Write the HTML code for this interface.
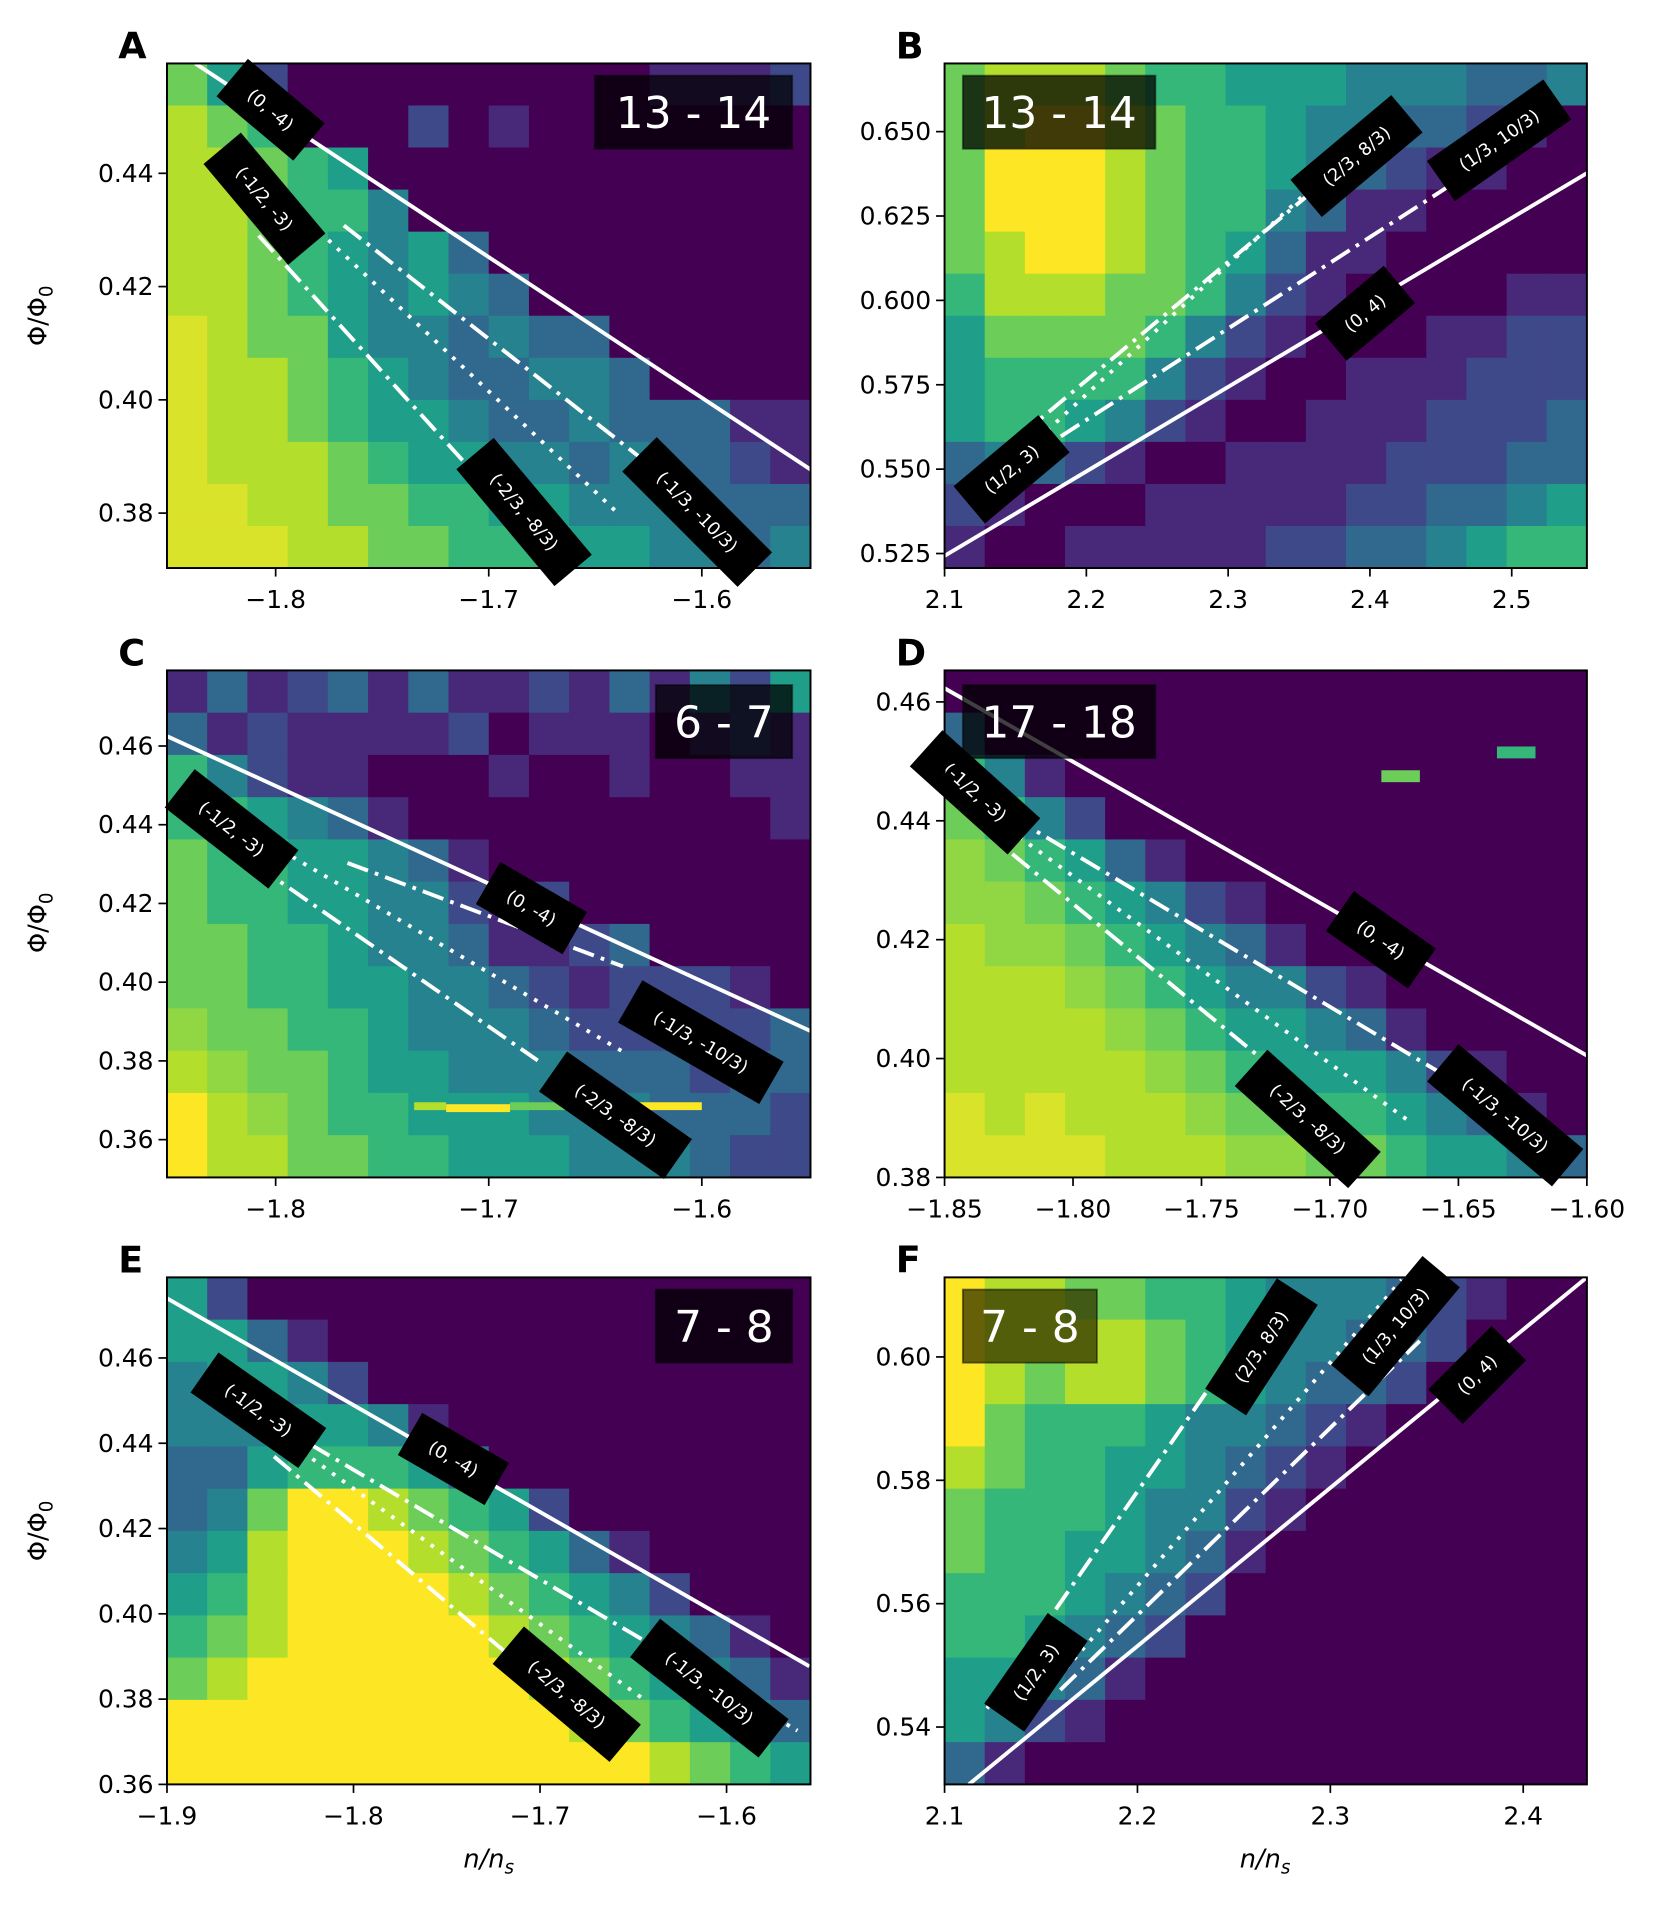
<!DOCTYPE html>
<html><head><meta charset="utf-8">
<style>
html,body{margin:0;padding:0;background:#fff;}
svg{display:block;font-family:"DejaVu Sans","Liberation Sans",sans-serif;}
</style></head>
<body>
<svg id="fig" width="1660" height="1910" viewBox="0 0 1362 1567" xmlns="http://www.w3.org/2000/svg"></svg>
<script>
// ---- heatmap data (0 = low / purple, 9 = high / yellow), rows top -> bottom ----
const gridA=[
[7,5,2,0,0,0,0,0,0,0,0,0,1,1,1,2],
[8,7,6,0,0,0,2,0,1,0,0,0,0,0,0,0],
[8,8,7,6,5,0,0,0,0,0,0,0,0,0,0,0],
[8,8,7,6,6,4,0,0,0,0,0,0,0,0,0,0],
[8,8,7,6,5,4,5,3,0,0,0,0,0,0,0,0],
[8,8,7,6,5,4,5,4,3,0,0,0,0,0,0,0],
[8.5,8,7,7,5,4,4,3,4,3,3,0,0,0,0,0],
[8.5,8,8,7,6,5,4,3,3,4,4,3,0,0,0,0],
[8.5,8,8,7,6,5,5,4,3,3,4,3,3,3,1,1],
[8.5,8,8,8,7,6,5,5,4,4,3,4,3,3,2,1],
[8.5,8.5,8,8,7,7,6,6,5,5,4,4,4,3,3,3],
[8.5,8.5,8.5,8,8,7,7,6,6,6,5,5,4,4,3,4]];
const gridB=[
[7,8,8,8,7,6,6,5,5,5,4,4,4,3,3,4],
[7,8,9,9,8,7,6,6,5,4,4,3,3,2,1,0],
[7,9,9,9,8,7,6,6,5,4,3,2,1,1,0,0],
[7,9,9,9,8,7,6,6,4,3,1,1,0,0,0,0],
[7,8,9,9,8,7,6,5,3,1,1,0,0,0,0,0],
[6,8,8,8,7,7,6,4,2,1,0,0,0,0,1,1],
[5,7,7,7,7,6,4,2,1,0,0,0,1,1,2,2],
[5,6,6,6,6,4,2,1,0,0,1,1,1,2,2,2],
[5,6,6,5,4,2,1,0,0,1,1,1,2,2,2,3],
[3,4,3,2,1,0,0,1,1,1,1,2,2,2,3,3],
[2,1,0,0,0,1,1,1,1,1,2,2,3,3,4,5],
[1,0,0,1,1,1,1,1,2,2,3,3,4,5,6,6]];
const gridC=[
[1,3,1,2,3,1,3,1,1,2,1,3,1,4,2,5],
[3,1,2,1,1,1,1,2,0,1,1,1,0,1,2,1],
[6,4,2,1,1,0,0,0,1,0,0,1,0,0,1,1],
[6,6,5,4,3,1,0,0,0,0,0,0,0,0,0,1],
[7,6,6,5,5,4,3,1,0,0,0,0,0,0,0,0],
[7,6,6,5,5,4,4,2,1,2,0,0,0,0,0,0],
[7,7,6,6,5,4,4,3,1,1,2,3,0,0,0,0],
[7,7,6,6,5,5,4,4,3,2,1,2,2,2,1,0],
[7.5,7,7,6,6,5,4,4,4,3,2,2,2,2,2,3],
[8,7.5,7,7,6,5,5,4,4,4,3,3,3,2,3,3],
[9,8,7.5,7,6,6,5,5,5,4,4,4,3,3,3,2],
[9,8,8,7,7,6,6,5,5,5,4,4,4,3,2,2]];
const gridD=[
[0,0,0,0,0,0,0,0,0,0,0,0,0,0,0,0],
[3,0,0,0,0,0,0,0,0,0,0,0,0,0,0,0],
[6,4,1,0,0,0,0,0,0,0,0,0,0,0,0,0],
[7,6,4,2,0,0,0,0,0,0,0,0,0,0,0,0],
[7.5,7,6,5,3,1,0,0,0,0,0,0,0,0,0,0],
[7.5,7.5,7,6,5,4,2,1,0,0,0,0,0,0,0,0],
[8,7.5,7.5,7,6,5,4,3,1,0,0,0,0,0,0,0],
[8,8,8,7.5,7,6,5,4,4,2,1,0,0,0,0,0],
[8,8,8,8,7.5,7,6,5,5,4,3,1,0,0,0,0],
[8,8,8,8,8,7.5,7,6,5,5,5,4,2,1,0,0],
[8.5,8,8.5,8,8,8,7.5,7,7,6,6,5,4,3,1,0],
[8.5,8.5,8.5,8.5,8,8,8,7.5,7.5,7,7,6,5,5,4,3]];
const gridE=[
[5,2,0,0,0,0,0,0,0,0,0,0,0,0,0,0],
[5,5,3,1,0,0,0,0,0,0,0,0,0,0,0,0],
[4,5,5,4,2,0,0,0,0,0,0,0,0,0,0,0],
[4,4,4,5,5,4,1,0,0,0,0,0,0,0,0,0],
[3,3,5,6,6,6,5,3,0,0,0,0,0,0,0,0],
[3,4,7,9,9,8,7,6,5,2,0,0,0,0,0,0],
[4,5,8,9,9,9,8,7,6,5,3,1,0,0,0,0],
[5,6,8,9,9,9,9,8,7,6,5,4,2,0,0,0],
[6,7,8,9,9,9,9,9,8,7,6,5,4,3,1,0],
[7,8,9,9,9,9,9,9,9,8,7,6,5,4,3,1],
[9,9,9,9,9,9,9,9,9,9,8,7,6,5,4,3],
[9,9,9,9,9,9,9,9,9,9,9,9,8,7,6,5]];
const gridF=[
[9,8,8,7,7,6,6,5,4,4,4,3,2,1,0,0],
[9,8,8,8,8,7,6,5,4,4,3,3,2,0,0,0],
[9,8,7,8,8,7,6,5,4,3,3,2,0,0,0,0],
[9,7,6,6,6,5,4,4,3,2,1,0,0,0,0,0],
[8,7,6,6,5,5,4,3,2,1,0,0,0,0,0,0],
[7,6,6,6,5,4,4,2,1,0,0,0,0,0,0,0],
[7,6,6,5,5,4,3,1,0,0,0,0,0,0,0,0],
[6,6,6,5,4,3,2,0,0,0,0,0,0,0,0,0],
[6,6,5,4,3,2,0,0,0,0,0,0,0,0,0,0],
[5,5,4,3,1,0,0,0,0,0,0,0,0,0,0,0],
[5,4,2,1,0,0,0,0,0,0,0,0,0,0,0,0],
[3,1,0,0,0,0,0,0,0,0,0,0,0,0,0,0]];
// isolated cells [n0, n1, phi0, phi1, value]
const extraC=[[-1.735,-1.72,0.3695,0.3675,8],[-1.72,-1.69,0.369,0.367,9],[-1.69,-1.66,0.3695,0.3675,7],[-1.66,-1.60,0.3695,0.3675,9]];
const extraD=[[-1.68,-1.665,0.4485,0.4465,7],[-1.635,-1.62,0.4525,0.4505,6]];
// axis limits
const xlimA=[-1.851,-1.549], ylimA=[0.3703,0.4594];
const xlimB=[2.1,2.553], ylimB=[0.5207,0.6702];
const xlimC=[-1.851,-1.549], ylimC=[0.3504,0.4792];
const xlimD=[-1.85,-1.60], ylimD=[0.38,0.4653];
const xlimE=[-1.9,-1.555], ylimE=[0.36,0.4789];
const xlimF=[2.1,2.433], ylimF=[0.5307,0.6129];
// ticks
const xticksA=[-1.8,-1.7,-1.6], xtlA=["\u22121.8","\u22121.7","\u22121.6"];
const yticksA=[0.38,0.40,0.42,0.44], ytlA=["0.38","0.40","0.42","0.44"];
const xticksB=[2.1,2.2,2.3,2.4,2.5], xtlB=["2.1","2.2","2.3","2.4","2.5"];
const yticksB=[0.525,0.55,0.575,0.6,0.625,0.65], ytlB=["0.525","0.550","0.575","0.600","0.625","0.650"];
const xticksD=[-1.85,-1.8,-1.75,-1.7,-1.65,-1.6], xtlD=["\u22121.85","\u22121.80","\u22121.75","\u22121.70","\u22121.65","\u22121.60"];
const yticksC=[0.36,0.38,0.40,0.42,0.44,0.46], ytlC=["0.36","0.38","0.40","0.42","0.44","0.46"];
const yticksD=[0.38,0.40,0.42,0.44,0.46], ytlD=["0.38","0.40","0.42","0.44","0.46"];
const xticksE=[-1.9,-1.8,-1.7,-1.6], xtlE=["\u22121.9","\u22121.8","\u22121.7","\u22121.6"];
const xticksF=[2.1,2.2,2.3,2.4], xtlF=["2.1","2.2","2.3","2.4"];
const yticksF=[0.54,0.56,0.58,0.60], ytlF=["0.54","0.56","0.58","0.60"];
// lines: [n0, phi0, n1, phi1]
const linesA={solid:[-1.8377,0.4594,-1.549,0.3877],dd1:[-1.768,0.4308,-1.5817,0.3759],dot:[-1.7794,0.4297,-1.64,0.3802],dd2:[-1.808,0.429,-1.712,0.3892]};
const linesB={solid:[2.1,0.5243,2.553,0.6377],dd1:[2.182,0.5597,2.47,0.6377],dot:[2.166,0.559,2.405,0.6511],dd2:[2.13,0.5517,2.3667,0.6348]};
const linesC={solid:[-1.851,0.4625,-1.549,0.3876],dd1:[-1.7663,0.4303,-1.637,0.404],dot:[-1.792,0.4318,-1.635,0.3817],dd2:[-1.809,0.4297,-1.677,0.3801]};
const linesD={solid:[-1.85,0.4623,-1.60,0.4005],dd1:[-1.8238,0.4407,-1.657,0.3976],dot:[-1.8286,0.4397,-1.669,0.3894],dd2:[-1.8357,0.4387,-1.7143,0.3956]};
const linesE={solid:[-1.9,0.474,-1.5556,0.3877],dd1:[-1.823,0.4397,-1.562,0.3726],dot:[-1.8326,0.4397,-1.6436,0.3797],dd2:[-1.8426,0.4369,-1.6958,0.3826]};
const linesF={solid:[2.1126,0.5307,2.433,0.6129],dd1:[2.16,0.546,2.3464,0.6026],dot:[2.1506,0.545,2.337,0.6125],dd2:[2.122,0.543,2.261,0.6057]};
// labels: [text, cx px, cy px, angle]
const labsA=[["(0, -4)",222,90,40],["(-1/2, -3)",217,163,50],["(-2/3, -8/3)",430,420,50],["(-1/3, -10/3)",572,420,45]];
const labsB=[["(1/2, 3)",830,385,-40],["(2/3, 8/3)",1113,128,-40],["(1/3, 10/3)",1230,115,-35],["(0, 4)",1120,257,-40]];
const labsC=[["(-1/2, -3)",190,680,38],["(0, -4)",436,745,30],["(-1/3, -10/3)",575,855,30],["(-2/3, -8/3)",505,915,35]];
const labsD=[["(-1/2, -3)",800,650,42],["(0, -4)",1133,771,35],["(-2/3, -8/3)",1073,918,42],["(-1/3, -10/3)",1235,915,40]];
const labsE=[["(-1/2, -3)",212,1157,35],["(0, -4)",372,1197,30],["(-2/3, -8/3)",465,1390,40],["(-1/3, -10/3)",582,1385,38]];
const labsF=[["(1/2, 3)",850,1372,-55],["(2/3, 8/3)",1035,1105,-57],["(1/3, 10/3)",1145,1088,-50],["(0, 4)",1212,1128,-45]];

const NS="http://www.w3.org/2000/svg";
const svg=document.getElementById('fig');
const VIR=[[68,1,84],[72,40,120],[62,73,137],[49,104,142],[38,130,142],[31,158,137],[53,183,121],[109,205,89],[180,222,44],[253,231,37]];
function vir(v){const t=Math.max(0,Math.min(9,v));const i=Math.min(8,Math.floor(t)),f=t-i;const a=VIR[i],b=VIR[i+1];
 return 'rgb('+a.map((c,k)=>Math.round(c+(b[k]-c)*f)).join(',')+')';}
function mk(tag,attrs,parent){const e=document.createElementNS(NS,tag);for(const k in attrs)e.setAttribute(k,attrs[k]);(parent||svg).appendChild(e);return e;}

function panel(P){
 const g=mk('g',{});
 
 
 const X=n=>P.px[0]+(n-P.xl[0])/(P.xl[1]-P.xl[0])*(P.px[1]-P.px[0]);
 const Y=p=>P.py[1]-(p-P.yl[0])/(P.yl[1]-P.yl[0])*(P.py[1]-P.py[0]);
 const hm=mk('g',{},g);
 
 
 const R=P.grid.length,C=P.grid[0].length;
 const dx=(P.xl[1]-P.xl[0])/C, dy=(P.yl[1]-P.yl[0])/R;
 P.grid.forEach((row,r)=>row.forEach((v,c)=>{
  const x0=X(P.xl[0]+c*dx),x1=X(P.xl[0]+(c+1)*dx),y0=Y(P.yl[1]-r*dy),y1=Y(P.yl[1]-(r+1)*dy);
  const cell=mk('rect',{x:x0,y:y0,width:x1-x0+0.6,height:y1-y0+0.6,fill:vir(v)},hm);
  
  
 }));
 (P.extra||[]).forEach(e=>{
  const cell=mk('rect',{x:X(e[0]),y:Y(e[2]),width:X(e[1])-X(e[0]),height:Y(e[3])-Y(e[2]),fill:vir(e[4])},hm);
  
  
 });
 const cp='clip'+P.id;
 const cl=mk('clipPath',{id:cp},g);mk('rect',{x:P.px[0],y:P.py[0],width:P.px[1]-P.px[0],height:P.py[1]-P.py[0]},cl);
 const styles={solid:'none',dd1:'18,6,3,6',dot:'3,7',dd2:'18,6,3,6'};
 for(const k in P.lines){const L=P.lines[k];
  const ln=mk('line',{x1:X(L[0]),y1:Y(L[1]),x2:X(L[2]),y2:Y(L[3]),stroke:'#fff','stroke-width':3.2,'stroke-dasharray':styles[k],'clip-path':'url(#'+cp+')'},g);
  
  
 }
 const ab=mk('g',{},g);
 
 
 mk('rect',{x:P.ann[1],y:P.ann[2],width:P.ann[3],height:60,fill:P.ann[4],'fill-opacity':0.75,stroke:'#000','stroke-opacity':0.5,'stroke-width':1.5},ab);
 const at=mk('text',{x:P.ann[1]+P.ann[3]/2,y:P.ann[2]+43,'text-anchor':'middle',fill:'#fff','font-size':36},ab);at.textContent=P.ann[0];
 P.labs.forEach(l=>{
  const lg=mk('g',{transform:'translate('+l[1]+','+l[2]+') rotate('+l[3]+')'},g);
  
  
  const w=l[0].length*8.6+22;
  mk('rect',{x:-w/2,y:-20,width:w,height:40,fill:'#000'},lg);
  const t=mk('text',{x:0,y:5,'text-anchor':'middle',fill:'#fff','font-size':14.5},lg);t.textContent=l[0];
 });
 const fr=mk('rect',{x:P.px[0],y:P.py[0],width:P.px[1]-P.px[0],height:P.py[1]-P.py[0],fill:'none',stroke:'#000','stroke-width':1.6},g);
 
 
 P.xt.forEach((v,i)=>{const x=X(v);
  mk('line',{x1:x,y1:P.py[1],x2:x,y2:P.py[1]+7,stroke:'#000','stroke-width':1.4},g);
  const t=mk('text',{x:x,y:P.py[1]+33,'text-anchor':'middle','font-size':20.5},g);t.textContent=P.xtl[i];
  
  
 });
 P.yt.forEach((v,i)=>{const y=Y(v);
  mk('line',{x1:P.px[0]-7,y1:y,x2:P.px[0],y2:y,stroke:'#000','stroke-width':1.4},g);
  const t=mk('text',{x:P.px[0]-11,y:y+7,'text-anchor':'end','font-size':20.5},g);t.textContent=P.ytl[i];
  
  
 });
 const lt=mk('text',{x:P.px[0]-40,y:P.py[0]-4,'font-size':30,'font-weight':'bold'},g);lt.textContent=P.id;
 
 
}
const L=[137,665],R=[775,1302];
panel({id:'A',px:L,py:[52,466],xl:xlimA,yl:ylimA,grid:gridA,lines:linesA,labs:labsA,xt:xticksA,xtl:xtlA,yt:yticksA,ytl:ytlA,ann:['13 - 14',488,62,162,'#000']});
panel({id:'B',px:R,py:[52,466],xl:xlimB,yl:ylimB,grid:gridB,lines:linesB,labs:labsB,xt:xticksB,xtl:xtlB,yt:yticksB,ytl:ytlB,ann:['13 - 14',790,62,158,'#000']});
panel({id:'C',px:L,py:[550,966],xl:xlimC,yl:ylimC,grid:gridC,extra:extraC,lines:linesC,labs:labsC,xt:xticksA,xtl:xtlA,yt:yticksC,ytl:ytlC,ann:['6 - 7',538,562,112,'#000']});
panel({id:'D',px:R,py:[550,966],xl:xlimD,yl:ylimD,grid:gridD,extra:extraD,lines:linesD,labs:labsD,xt:xticksD,xtl:xtlD,yt:yticksD,ytl:ytlD,ann:['17 - 18',790,562,158,'#000']});
panel({id:'E',px:L,py:[1048,1464],xl:xlimE,yl:ylimE,grid:gridE,lines:linesE,labs:labsE,xt:xticksE,xtl:xtlE,yt:yticksC,ytl:ytlC,ann:['7 - 8',538,1058,112,'#000']});
panel({id:'F',px:R,py:[1048,1464],xl:xlimF,yl:ylimF,grid:gridF,lines:linesF,labs:labsF,xt:xticksF,xtl:xtlF,yt:yticksF,ytl:ytlF,ann:['7 - 8',790,1058,110,'#333300']});
[[259],[757],[1256]].forEach(a=>{
 const t=mk('text',{transform:'translate(38,'+a[0]+') rotate(-90)','text-anchor':'middle','font-size':21},svg);
 t.innerHTML='\u03A6/\u03A6<tspan font-size="15" dy="5">0</tspan>';
 
 
});
[401,1038].forEach(x=>{
 const t=mk('text',{x:x,y:1532,'text-anchor':'middle','font-size':21,'font-style':'italic'},svg);
 t.innerHTML='n/n<tspan font-size="15" dy="5">s</tspan>';
 
 
});
</script>
</body></html>
